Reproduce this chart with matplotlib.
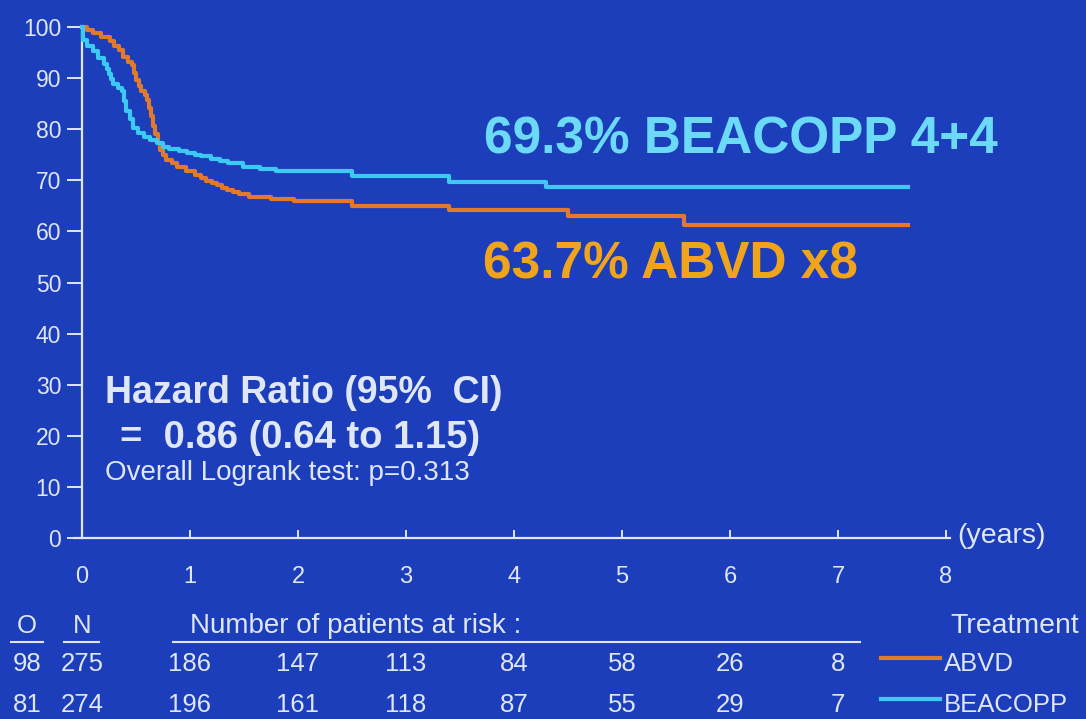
import matplotlib
matplotlib.use("Agg")
import matplotlib.pyplot as plt

# ---------------- data ----------------
abvd_t = [0.0, 0.05, 0.10, 0.18, 0.26, 0.30, 0.34, 0.38, 0.43, 0.46, 0.48, 0.50, 0.53, 0.55,
          0.58, 0.60, 0.62, 0.64, 0.66, 0.68, 0.70, 0.72, 0.75, 0.78, 0.83, 0.88, 0.96, 1.05,
          1.10, 1.15, 1.20, 1.25, 1.30, 1.34, 1.40, 1.45, 1.55, 1.75, 1.96, 2.50, 3.40, 4.50,
          5.57, 7.65]
abvd_s = [100.0, 99.4, 98.8, 98.0, 97.2, 96.3, 95.5, 94.2, 93.2, 92.6, 91.0, 89.7, 88.5, 87.5,
          86.6, 85.8, 84.2, 82.5, 80.6, 79.0, 77.3, 76.0, 75.0, 74.0, 73.3, 72.7, 71.8, 71.0,
          70.5, 69.9, 69.5, 69.0, 68.5, 68.1, 67.7, 67.3, 66.8, 66.4, 66.0, 65.0, 64.1, 63.1,
          61.3, 61.3]

beac_t = [0.0, 0.01, 0.05, 0.10, 0.15, 0.20, 0.23, 0.25, 0.27, 0.29, 0.33, 0.37, 0.39, 0.41,
          0.44, 0.47, 0.52, 0.57, 0.63, 0.69, 0.75, 0.81, 0.90, 0.97, 1.05, 1.10, 1.19, 1.28,
          1.35, 1.49, 1.65, 1.80, 2.50, 3.40, 4.30, 7.65]
beac_s = [100.0, 97.4, 96.3, 95.4, 94.0, 92.8, 91.8, 90.8, 89.8, 88.9, 88.1, 87.5, 85.5, 83.6,
          82.0, 80.3, 79.2, 78.4, 77.8, 77.3, 76.6, 76.1, 75.7, 75.4, 75.0, 74.7, 74.1, 73.7,
          73.3, 72.6, 72.2, 71.8, 70.9, 69.7, 68.7, 68.7]

x_ticks = [0, 1, 2, 3, 4, 5, 6, 7, 8]
y_ticks = [0, 10, 20, 30, 40, 50, 60, 70, 80, 90, 100]

risk_years = [1, 2, 3, 4, 5, 6, 7]
abvd_risk = [186, 147, 113, 84, 58, 26, 8]
beac_risk = [196, 161, 118, 87, 55, 29, 7]
abvd_O, abvd_N = 98, 275
beac_O, beac_N = 81, 274

# ---------------- style ----------------
BG = "#1c3eba"
TXT = "#dfe6f6"
ORANGE = "#e27a2c"
CYAN = "#3ccaf2"
CYAN_TXT = "#6cdaf6"
ORANGE_TXT = "#f0a41c"
FONT = "Liberation Sans"
plt.rcParams["font.family"] = [FONT, "DejaVu Sans"]

W, H = 1086, 719
fig = plt.figure(figsize=(W / 100, H / 100), dpi=100, facecolor=BG)

# axes placement: x=0 -> px 82, 108 px/year; y=0 -> py 538, y=100 -> py 27
x0px, pxyr = 82.0, 108.0
xmin, xmax = -0.07, 8.04
left = (x0px + xmin * pxyr) / W
width = (xmax - xmin) * pxyr / W
bottom = (H - 538) / H
height = (538 - 27) / H
ax = fig.add_axes([left, bottom, width, height], facecolor=BG)
ax.set_xlim(xmin, xmax)
ax.set_ylim(0, 100)

for s in ["top", "right"]:
    ax.spines[s].set_visible(False)
ax.spines["left"].set_position(("data", 0))
ax.spines["left"].set_color(TXT)
ax.spines["bottom"].set_color(TXT)
ax.spines["left"].set_linewidth(1.6)
ax.spines["bottom"].set_linewidth(1.6)

ax.set_yticks(y_ticks)
ax.set_yticklabels([str(v) for v in y_ticks])
ax.set_xticks(x_ticks)
ax.set_xticklabels([str(v) for v in x_ticks])
ax.tick_params(axis="y", colors=TXT, labelcolor=TXT, length=11, width=1.4, pad=4,
               labelsize=16.5, direction="out")
ax.tick_params(axis="x", colors=TXT, labelcolor=TXT, length=6, width=1.4, pad=20,
               labelsize=17, direction="in")

ax.step(abvd_t, abvd_s, where="post", color=ORANGE, lw=3.0, clip_on=False, zorder=3)
ax.step(beac_t, beac_s, where="post", color=CYAN, lw=3.0, clip_on=False, zorder=4)

# annotations
ax.text(8.1, 0.4, "(years)", color=TXT, fontsize=20.5, ha="left", va="center")
fig.text(484 / W, 1 - 140 / H, "69.3% BEACOPP 4+4", color=CYAN_TXT, fontsize=37,
         ha="left", va="center", fontweight="bold")
fig.text(483 / W, 1 - 265 / H, "63.7% ABVD x8", color=ORANGE_TXT, fontsize=37,
         ha="left", va="center", fontweight="bold")
fig.text(105 / W, 1 - 393 / H, "Hazard Ratio (95%  CI)", color=TXT, fontsize=27,
         fontweight="bold", ha="left", va="center")
fig.text(120 / W, 1 - 438 / H, "=  0.86 (0.64 to 1.15)", color=TXT, fontsize=27.5,
         fontweight="bold", ha="left", va="center")
fig.text(105 / W, 1 - 473 / H, "Overall Logrank test: p=0.313", color=TXT, fontsize=20,
         ha="left", va="center")

# ---------------- risk table ----------------
def fx(year):
    return (x0px + year * pxyr) / W

y_head = 1 - 626 / H
y_r1 = 1 - 664 / H
y_r2 = 1 - 705 / H
tfs = 18.5
fig.text(27 / W, y_head, "O", color=TXT, fontsize=tfs, ha="center", va="center")
fig.text(82 / W, y_head, "N", color=TXT, fontsize=tfs, ha="center", va="center")
fig.add_artist(plt.Line2D([11 / W, 43 / W], [1 - 642 / H] * 2, color=TXT, lw=1.5))
fig.add_artist(plt.Line2D([64 / W, 99 / W], [1 - 642 / H] * 2, color=TXT, lw=1.5))
fig.text(190 / W, y_head, "Number of patients at risk :", color=TXT, fontsize=20,
         ha="left", va="center")
fig.add_artist(plt.Line2D([173 / W, 860 / W], [1 - 642 / H] * 2, color=TXT, lw=1.5))
fig.text(950 / W, y_head, "Treatment", color=TXT, fontsize=20.5, ha="left", va="center")

for yy, O, N, risk, col, name in [(y_r1, abvd_O, abvd_N, abvd_risk, ORANGE, "ABVD"),
                                  (y_r2, beac_O, beac_N, beac_risk, CYAN, "BEACOPP")]:
    fig.text(27 / W, yy, str(O), color=TXT, fontsize=tfs, ha="center", va="center")
    fig.text(82 / W, yy, str(N), color=TXT, fontsize=tfs, ha="center", va="center")
    for yr, v in zip(risk_years, risk):
        fig.text(fx(yr), yy, str(v), color=TXT, fontsize=tfs, ha="center", va="center")
    fig.add_artist(plt.Line2D([881 / W, 940 / W], [yy + 6 / H] * 2, color=col, lw=3))
    fig.text(944 / W, yy, name, color=TXT, fontsize=tfs, ha="left", va="center")

fig.savefig("out.png", dpi=100, facecolor=BG)
